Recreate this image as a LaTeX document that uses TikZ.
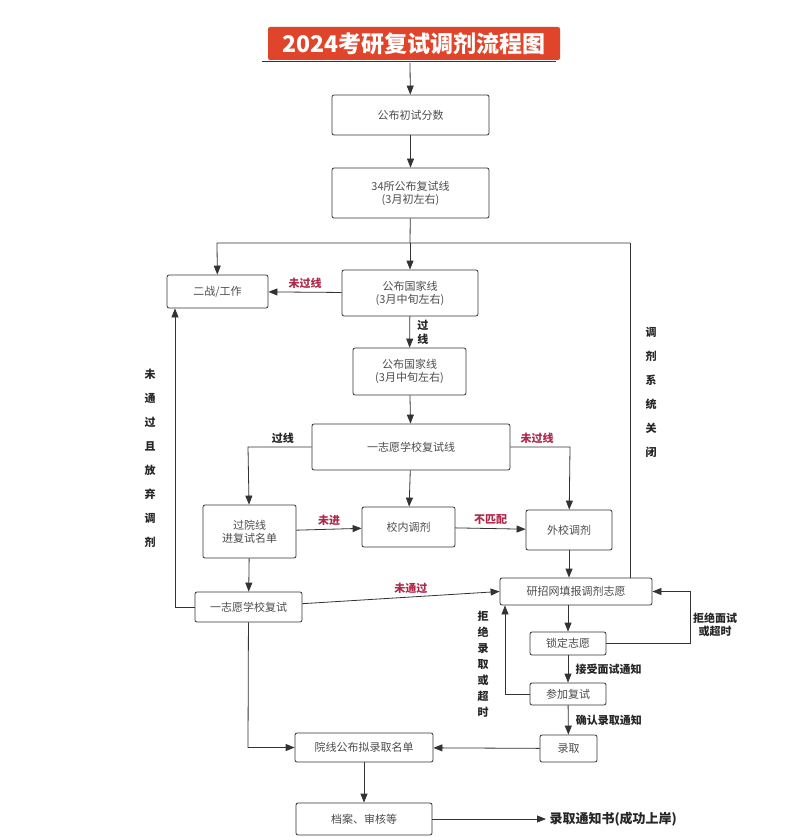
\documentclass[tikz,border=0pt]{standalone}
\usepackage{fontspec}
\setmainfont{Noto Sans CJK SC}
\usetikzlibrary{positioning,arrows.meta,calc}
\definecolor{palRed}{HTML}{E0452B}
\definecolor{palLbl}{HTML}{B0284A}
\definecolor{palGray}{HTML}{333333}
\tikzset{
  stdnode/.style={draw=palGray, thick, rounded corners=2pt, align=center,
                  font=\fontsize{11}{13}\selectfont, text=black!70, inner sep=0pt},
  stdarrow/.style={-{Triangle[length=9pt,width=7pt]}, thick, palGray},
  stdline/.style={thick, palGray},
  lbl/.style={font=\bfseries\fontsize{11}{13}\selectfont, text=black!85},
  redlbl/.style={lbl, text=palLbl},
  vlbl/.style={lbl, align=center, font=\bfseries\fontsize{11}{24}\selectfont},
}
\begin{document}
\begin{tikzpicture}[x=1pt,y=-1pt]
\useasboundingbox (0,0) rectangle (800,837);
%% Title
\node[fill=palRed, rounded corners=2pt, text=white, font=\bfseries\fontsize{23}{26}\selectfont,
      minimum width=292, minimum height=33] (title) at (414,43.5) {2024考研复试调剂流程图};
\draw[stdline] (262,61) -- (556,61);
\coordinate (t0) at (410,63);
%% Nodes
\node[stdnode, minimum width=157, minimum height=40] (score) at (410.5,115) {公布初试分数};
\node[stdnode, minimum width=157, minimum height=50] (line34) at (410.5,193) {34所公布复试线\\(3月初左右)};
\node[stdnode, minimum width=101, minimum height=33] (quit) at (217.5,291.5) {二战/工作};
\node[stdnode, minimum width=136, minimum height=46] (nat1) at (410,293) {公布国家线\\(3月中旬左右)};
\node[stdnode, minimum width=113, minimum height=47] (nat2) at (409.5,371.5) {公布国家线\\(3月中旬左右)};
\node[stdnode, minimum width=198, minimum height=46] (first) at (411,447) {一志愿学校复试线};
\node[stdnode, minimum width=93, minimum height=53] (pass) at (249.5,531.5) {过院线\\进复试名单};
\node[stdnode, minimum width=93, minimum height=40] (inner) at (408.5,527) {校内调剂};
\node[stdnode, minimum width=86, minimum height=40] (outer) at (569,530) {外校调剂};
\node[stdnode, minimum width=107, minimum height=30] (retest) at (248.5,607) {一志愿学校复试};
\node[stdnode, minimum width=152, minimum height=27] (apply) at (576,591.5) {研招网填报调剂志愿};
\node[stdnode, minimum width=76, minimum height=23] (lock) at (568,643.5) {锁定志愿};
\node[stdnode, minimum width=76, minimum height=22] (attend) at (568,694) {参加复试};
\node[stdnode, minimum width=57, minimum height=27] (admit) at (568.5,748.5) {录取};
\node[stdnode, minimum width=138, minimum height=29] (list) at (364,747.5) {院线公布拟录取名单};
\node[stdnode, minimum width=136, minimum height=32] (file) at (364,819) {档案、审核等};
\node[lbl, anchor=west, font=\bfseries\fontsize{13}{15}\selectfont] (done) at (546,819) {录取通知书(成功上岸)};
%% Coordinates
\coordinate (j0) at (410,243);
\coordinate (jl) at (217,243);
\coordinate (jr) at (630,243);
\coordinate (fl) at (248,447);
\coordinate (fr) at (570,447);
\coordinate (rl) at (175,607);
\coordinate (lr) at (690,643.5);
\coordinate (al) at (505,694);
\coordinate (rb) at (248,747.5);
%% Edges
\draw[stdarrow] (t0) -- (score);
\draw[stdarrow] (score) -- (line34);
\draw[stdline] (line34) -- (j0);
\draw[stdarrow] (j0) -- (nat1);
\draw[stdarrow] (jr) -- (jl) -- (quit);
\draw[stdline] (jr) -- (jr |- apply.north);
\draw[stdarrow] (nat1) -- node[redlbl, above] {未过线} (quit);
\draw[stdarrow] (nat1) -- node[vlbl, right=4pt, font=\bfseries\fontsize{11}{14}\selectfont] {过\\线} (nat2);
\draw[stdarrow] (nat2) -- (first);
\draw[stdarrow] (first.west) -- node[lbl, above, pos=0.45] {过线} (fl) -- (pass);
\draw[stdarrow] (first.east) -- node[redlbl, above, pos=0.45] {未过线} (fr) -- (outer);
\draw[stdarrow] (first) -- (inner);
\draw[stdarrow] (pass) -- node[redlbl, above] {未进} (inner);
\draw[stdarrow] (inner) -- node[redlbl, above] {不匹配} (outer);
\draw[stdarrow] (pass) -- (retest);
\draw[stdarrow] (retest) -- node[redlbl, above, pos=0.55] {未通过} (apply.west);
\draw[stdarrow] (outer) -- (outer |- apply.north);
\draw[stdarrow] (retest.west) -- (rl) -- (rl |- quit.south);
\draw[stdarrow] (apply.south -| lock) -- (lock);
\draw[stdarrow] (lock.east) -- (lr) -- (lr |- apply) -- (apply.east);
\draw[stdarrow] (lock) -- node[lbl, right=4pt] {接受面试通知} (attend);
\draw[stdarrow] (attend.west) -- (al) -- (al |- apply.south);
\draw[stdarrow] (attend) -- node[lbl, right=4pt] {确认录取通知} (admit);
\draw[stdarrow] (admit) -- (list);
\draw[stdarrow] (retest) -- (rb) -- (list);
\draw[stdarrow] (list) -- (file);
\draw[stdarrow] (file) -- (done);
%% Vertical labels
\node[vlbl] at (150,458) {未\\通\\过\\且\\放\\弃\\调\\剂};
\node[vlbl] at (651,392) {调\\剂\\系\\统\\关\\闭};
\node[vlbl, font=\bfseries\fontsize{11}{16}\selectfont] at (483,664) {拒\\绝\\录\\取\\或\\超\\时};
\node[lbl, align=center] at (715,625) {拒绝面试\\或超时};
\end{tikzpicture}
\end{document}
